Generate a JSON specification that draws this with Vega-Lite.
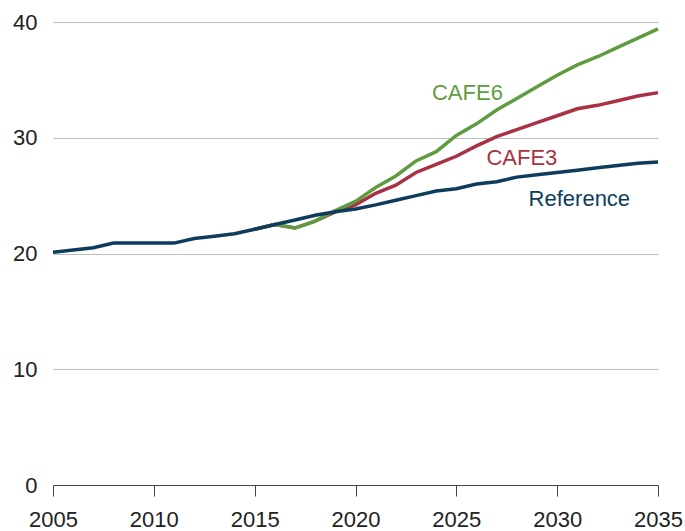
{
  "$schema": "https://vega.github.io/schema/vega-lite/v6.json",
  "width": 605,
  "height": 463,
  "autosize": "none",
  "padding": {"left": 53, "top": 22, "right": 27, "bottom": 46},
  "background": "white",
  "config": {
    "view": {"stroke": null},
    "font": "Liberation Sans"
  },
  "datasets": {
    "series": [
      {"year": 2005, "series": "Reference", "mpg": 20.1},
      {"year": 2006, "series": "Reference", "mpg": 20.3},
      {"year": 2007, "series": "Reference", "mpg": 20.5},
      {"year": 2008, "series": "Reference", "mpg": 20.9},
      {"year": 2009, "series": "Reference", "mpg": 20.9},
      {"year": 2010, "series": "Reference", "mpg": 20.9},
      {"year": 2011, "series": "Reference", "mpg": 20.9},
      {"year": 2012, "series": "Reference", "mpg": 21.3},
      {"year": 2013, "series": "Reference", "mpg": 21.5},
      {"year": 2014, "series": "Reference", "mpg": 21.7},
      {"year": 2015, "series": "Reference", "mpg": 22.1},
      {"year": 2016, "series": "Reference", "mpg": 22.5},
      {"year": 2017, "series": "Reference", "mpg": 22.9},
      {"year": 2018, "series": "Reference", "mpg": 23.3},
      {"year": 2019, "series": "Reference", "mpg": 23.6},
      {"year": 2020, "series": "Reference", "mpg": 23.85},
      {"year": 2021, "series": "Reference", "mpg": 24.2},
      {"year": 2022, "series": "Reference", "mpg": 24.6},
      {"year": 2023, "series": "Reference", "mpg": 25.0},
      {"year": 2024, "series": "Reference", "mpg": 25.4},
      {"year": 2025, "series": "Reference", "mpg": 25.6},
      {"year": 2026, "series": "Reference", "mpg": 26.0},
      {"year": 2027, "series": "Reference", "mpg": 26.2},
      {"year": 2028, "series": "Reference", "mpg": 26.6},
      {"year": 2029, "series": "Reference", "mpg": 26.8},
      {"year": 2030, "series": "Reference", "mpg": 27.0},
      {"year": 2031, "series": "Reference", "mpg": 27.2},
      {"year": 2032, "series": "Reference", "mpg": 27.4},
      {"year": 2033, "series": "Reference", "mpg": 27.6},
      {"year": 2034, "series": "Reference", "mpg": 27.8},
      {"year": 2035, "series": "Reference", "mpg": 27.9},
      {"year": 2015, "series": "CAFE3", "mpg": 22.1},
      {"year": 2016, "series": "CAFE3", "mpg": 22.5},
      {"year": 2017, "series": "CAFE3", "mpg": 22.2},
      {"year": 2018, "series": "CAFE3", "mpg": 22.8},
      {"year": 2019, "series": "CAFE3", "mpg": 23.6},
      {"year": 2020, "series": "CAFE3", "mpg": 24.2},
      {"year": 2021, "series": "CAFE3", "mpg": 25.2},
      {"year": 2022, "series": "CAFE3", "mpg": 25.9},
      {"year": 2023, "series": "CAFE3", "mpg": 27.0},
      {"year": 2024, "series": "CAFE3", "mpg": 27.7},
      {"year": 2025, "series": "CAFE3", "mpg": 28.4},
      {"year": 2026, "series": "CAFE3", "mpg": 29.3},
      {"year": 2027, "series": "CAFE3", "mpg": 30.1},
      {"year": 2028, "series": "CAFE3", "mpg": 30.7},
      {"year": 2029, "series": "CAFE3", "mpg": 31.3},
      {"year": 2030, "series": "CAFE3", "mpg": 31.9},
      {"year": 2031, "series": "CAFE3", "mpg": 32.5},
      {"year": 2032, "series": "CAFE3", "mpg": 32.8},
      {"year": 2033, "series": "CAFE3", "mpg": 33.2},
      {"year": 2034, "series": "CAFE3", "mpg": 33.6},
      {"year": 2035, "series": "CAFE3", "mpg": 33.9},
      {"year": 2015, "series": "CAFE6", "mpg": 22.1},
      {"year": 2016, "series": "CAFE6", "mpg": 22.5},
      {"year": 2017, "series": "CAFE6", "mpg": 22.2},
      {"year": 2018, "series": "CAFE6", "mpg": 22.8},
      {"year": 2019, "series": "CAFE6", "mpg": 23.7},
      {"year": 2020, "series": "CAFE6", "mpg": 24.5},
      {"year": 2021, "series": "CAFE6", "mpg": 25.7},
      {"year": 2022, "series": "CAFE6", "mpg": 26.7},
      {"year": 2023, "series": "CAFE6", "mpg": 28.0},
      {"year": 2024, "series": "CAFE6", "mpg": 28.8},
      {"year": 2025, "series": "CAFE6", "mpg": 30.2},
      {"year": 2026, "series": "CAFE6", "mpg": 31.2},
      {"year": 2027, "series": "CAFE6", "mpg": 32.4},
      {"year": 2028, "series": "CAFE6", "mpg": 33.4},
      {"year": 2029, "series": "CAFE6", "mpg": 34.4},
      {"year": 2030, "series": "CAFE6", "mpg": 35.4},
      {"year": 2031, "series": "CAFE6", "mpg": 36.3},
      {"year": 2032, "series": "CAFE6", "mpg": 37.0},
      {"year": 2033, "series": "CAFE6", "mpg": 37.8},
      {"year": 2034, "series": "CAFE6", "mpg": 38.6},
      {"year": 2035, "series": "CAFE6", "mpg": 39.4}
    ],
    "labels": [
      {"series": "CAFE6", "label": "CAFE6", "year": 2025.55, "mpg": 33.9},
      {"series": "CAFE3", "label": "CAFE3", "year": 2028.25, "mpg": 28.27},
      {"series": "Reference", "label": "Reference", "year": 2031.1, "mpg": 24.67}
    ]
  },
  "encoding": {
    "x": {
      "field": "year",
      "type": "quantitative",
      "scale": {"domain": [2005, 2035], "nice": false, "zero": false},
      "axis": {
        "title": null,
        "values": [2005, 2010, 2015, 2020, 2025, 2030, 2035],
        "format": "d",
        "grid": false,
        "domainColor": "#444444",
        "domainWidth": 1,
        "tickColor": "#444444",
        "tickSize": 11,
        "tickWidth": 1,
        "labelFontSize": 22,
        "labelColor": "#222222",
        "labelPadding": 13,
        "labelFlush": false,
        "labelOverlap": false
      }
    },
    "y": {
      "field": "mpg",
      "type": "quantitative",
      "scale": {"domain": [0, 40], "nice": false},
      "axis": {
        "title": null,
        "values": [0, 10, 20, 30, 40],
        "domain": false,
        "ticks": false,
        "tickSize": 0,
        "grid": true,
        "gridColor": "#bdbdbd",
        "gridWidth": 1,
        "labelFontSize": 22,
        "labelColor": "#222222",
        "labelPadding": 16
      }
    },
    "color": {
      "field": "series",
      "type": "nominal",
      "scale": {
        "domain": ["Reference", "CAFE3", "CAFE6"],
        "range": ["#0d3d5b", "#a83244", "#5f9c40"]
      },
      "legend": null
    }
  },
  "layer": [
    {
      "data": {"name": "series"},
      "transform": [{"filter": "datum.series === 'CAFE3'"}],
      "mark": {"type": "line", "strokeWidth": 3.5}
    },
    {
      "data": {"name": "series"},
      "transform": [{"filter": "datum.series === 'CAFE6'"}],
      "mark": {"type": "line", "strokeWidth": 3.5}
    },
    {
      "data": {"name": "series"},
      "transform": [{"filter": "datum.series === 'Reference'"}],
      "mark": {"type": "line", "strokeWidth": 3.5}
    },
    {
      "data": {"name": "labels"},
      "mark": {"type": "text", "fontSize": 22, "align": "center", "baseline": "middle"},
      "encoding": {
        "text": {"field": "label", "type": "nominal"}
      }
    }
  ]
}
